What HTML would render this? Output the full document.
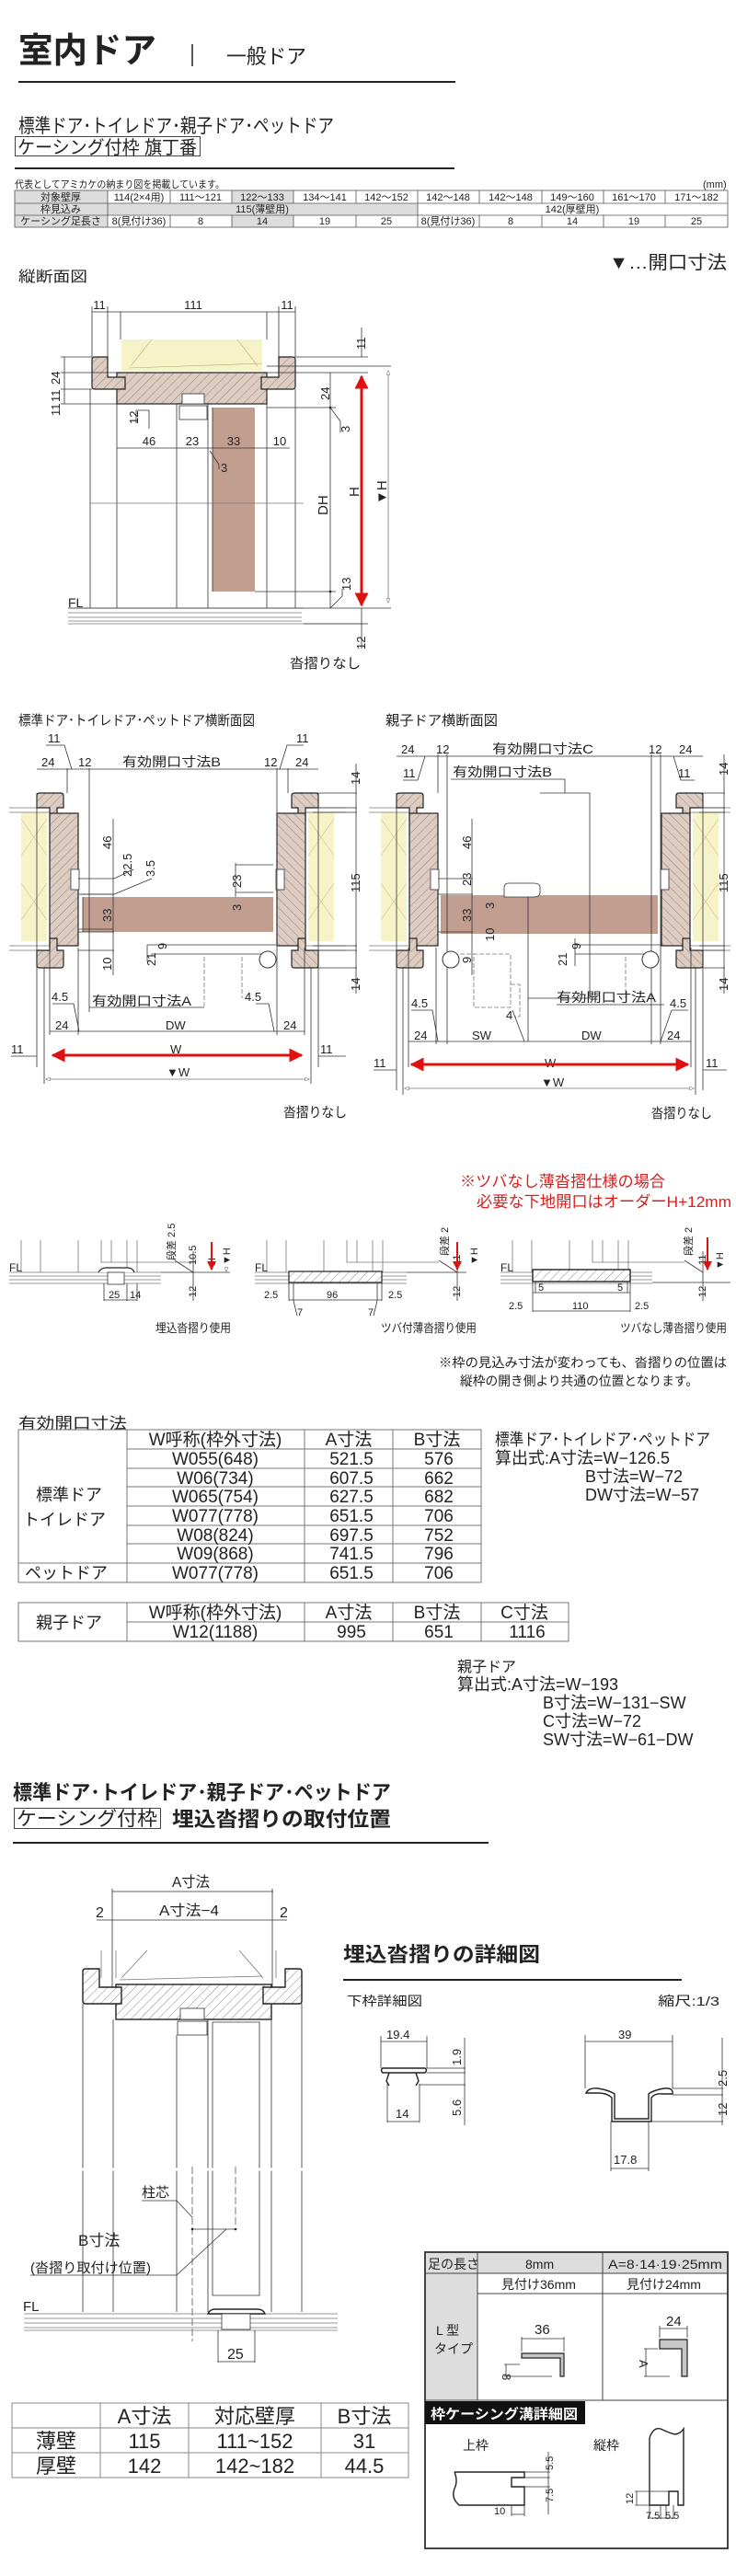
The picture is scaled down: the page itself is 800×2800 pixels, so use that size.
<!DOCTYPE html>
<html><head><meta charset="utf-8"><style>
html,body{margin:0;padding:0;background:#fff}
svg{display:block}
text{font-family:"Liberation Sans","Noto Sans CJK JP",sans-serif;fill:#222}
.d{font-size:13px}
.s{font-size:11px}
.ln{stroke:#333;stroke-width:0.8;fill:none}
.lg{stroke:#777;stroke-width:0.8;fill:none}
.th{stroke:#222;stroke-width:1.4;fill:none}
.red{stroke:#e01010;stroke-width:3;fill:none}
</style></head><body>
<svg width="800" height="2800" viewBox="0 0 800 2800" xmlns="http://www.w3.org/2000/svg">
<defs>
<pattern id="h" width="7" height="7" patternUnits="userSpaceOnUse" patternTransform="rotate(45)">
<rect width="7" height="7" fill="#dcccc2"/><line x1="0" y1="0" x2="0" y2="7" stroke="#8a6e60" stroke-width="0.8"/></pattern>
<pattern id="hw" width="7" height="7" patternUnits="userSpaceOnUse" patternTransform="rotate(45)">
<rect width="7" height="7" fill="#fff"/><line x1="0" y1="0" x2="0" y2="7" stroke="#555" stroke-width="0.7"/></pattern>
<marker id="ar" viewBox="0 0 10 10" refX="9" refY="5" markerWidth="5" markerHeight="5" orient="auto-start-reverse"><path d="M0,0L10,5L0,10Z" fill="#e01010"/></marker>
<marker id="ao" viewBox="0 0 10 10" refX="9" refY="5" markerWidth="6" markerHeight="6" orient="auto-start-reverse"><path d="M0,1L10,5L0,9Z" fill="#fff" stroke="#555"/></marker>
<g id="jamb">
<rect x="-17" y="883" width="28" height="140" fill="#f7f3c8"/>
<path d="M-17,890L11,930M-17,960L11,1000M-17,930L11,890M-17,1000L11,960" stroke="#c8c08a" stroke-width="0.6"/>
<line x1="-30" y1="878" x2="14" y2="878" class="lg"/><line x1="-30" y1="883" x2="14" y2="883" class="lg"/>
<line x1="-30" y1="1033" x2="14" y2="1033" class="lg"/><line x1="-30" y1="1028" x2="14" y2="1028" class="lg"/>
<path d="M0,865Q0,862 3,862H26Q29,862 29,865V878H22V892H14V878H0Z" fill="url(#h)" stroke="#222" stroke-width="1.2"/>
<rect x="14" y="884" width="31" height="144" fill="url(#h)" stroke="#222" stroke-width="1.2"/>
<path d="M0,1033H14V1020H22V1033H29V1049Q29,1052 26,1052H3Q0,1052 0,1049Z" fill="url(#h)" stroke="#222" stroke-width="1.2"/>
<rect x="37" y="945" width="9" height="22" fill="#fff" stroke="#333" stroke-width="0.8"/>
</g>
</defs>

<!-- HEADER -->
<text x="20" y="68" font-size="38" font-weight="bold" textLength="150" lengthAdjust="spacingAndGlyphs">室内ドア</text>
<line x1="209" y1="48" x2="209" y2="72" stroke="#222" stroke-width="1.5"/>
<text x="246" y="69" font-size="22" textLength="87" lengthAdjust="spacingAndGlyphs">一般ドア</text>
<line x1="20" y1="89" x2="495" y2="89" stroke="#222" stroke-width="2"/>
<text x="20" y="144" font-size="21" textLength="343" lengthAdjust="spacingAndGlyphs">標準ドア･トイレドア･親子ドア･ペットドア</text>
<rect x="16.5" y="148.5" width="201" height="21" fill="none" stroke="#444"/>
<text x="19" y="167" font-size="20" textLength="195" lengthAdjust="spacingAndGlyphs">ケーシング付枠 旗丁番</text>
<line x1="16" y1="183" x2="494" y2="183" stroke="#222" stroke-width="2"/>
<text x="16" y="204" font-size="11" textLength="228" lengthAdjust="spacingAndGlyphs">代表としてアミカケの納まり図を掲載しています。</text>
<text x="764" y="204" font-size="11">(mm)</text>
<!-- spec table -->
<rect x="16" y="207" width="101" height="40" fill="#ddd"/>
<rect x="252" y="207" width="67" height="14" fill="#ddd"/>
<rect x="117" y="221" width="337" height="13" fill="#ddd"/>
<rect x="252" y="234" width="67" height="13" fill="#ddd"/>
<g stroke="#555" stroke-width="0.8" fill="none">
<rect x="16" y="207" width="775" height="40"/>
<line x1="16" y1="221" x2="791" y2="221"/><line x1="16" y1="234" x2="791" y2="234"/>
<path d="M117,207V247M185,207V221M185,234V247M252,207V221M252,234V247M319,207V221M319,234V247M387,207V221M387,234V247M454,207V247M521,207V221M521,234V247M589,207V221M589,234V247M656,207V221M656,234V247M723,207V221M723,234V247"/>
</g>
<g font-size="11" text-anchor="middle">
<text x="66" y="218">対象壁厚</text><text x="151" y="218">114(2×4用)</text><text x="218" y="218">111～121</text><text x="285" y="218">122～133</text><text x="353" y="218">134～141</text><text x="420" y="218">142～152</text><text x="487" y="218">142～148</text><text x="555" y="218">142～148</text><text x="622" y="218">149～160</text><text x="689" y="218">161～170</text><text x="757" y="218">171～182</text>
<text x="66" y="231">枠見込み</text><text x="285" y="231">115(薄壁用)</text><text x="622" y="231">142(厚壁用)</text>
<text x="66" y="244">ケーシング足長さ</text><text x="151" y="244">8(見付け36)</text><text x="218" y="244">8</text><text x="285" y="244">14</text><text x="353" y="244">19</text><text x="420" y="244">25</text><text x="487" y="244">8(見付け36)</text><text x="555" y="244">8</text><text x="622" y="244">14</text><text x="689" y="244">19</text><text x="757" y="244">25</text>
</g>
<text x="662" y="292" font-size="20" textLength="128" lengthAdjust="spacingAndGlyphs">▼…開口寸法</text>
<text x="20" y="306" font-size="16" textLength="75" lengthAdjust="spacingAndGlyphs">縦断面図</text>

<!-- VERTICAL SECTION -->
<g>
<rect x="132" y="369" width="153" height="34" fill="#f7f3c8"/>
<path d="M165,369L142,398M258,369L280,398M140,400L285,395" stroke="#b0a870" stroke-width="0.6" fill="none"/>
<path class="ln" d="M100,333V388M117,333V400M303,333V400M321,333V388"/>
<line x1="100" y1="339" x2="321" y2="339" class="ln"/>
<path class="ln" d="M131,339V369M290,339V369"/>
<g class="d" text-anchor="middle"><text x="108" y="336">11</text><text x="210" y="336">111</text><text x="312" y="336">11</text></g>
<rect x="127" y="405" width="163" height="34" fill="url(#h)" stroke="#222" stroke-width="1.2"/>
<path d="M100,391Q100,388 103,388H117V410H136V423H103Q100,423 100,420Z" fill="url(#h)" stroke="#222" stroke-width="1.2"/>
<path d="M321,391Q321,388 318,388H303V410H284V423H318Q321,423 321,420Z" fill="url(#h)" stroke="#222" stroke-width="1.2"/>
<rect x="198" y="428" width="24" height="11" fill="#fff" stroke="#333" stroke-width="0.8"/>
<rect x="195" y="441" width="30" height="15" fill="#fff" stroke="#333" stroke-width="0.8"/>
<rect x="231" y="443" width="46" height="200" fill="#c29e91"/>
<path class="ln" d="M98,423V661M127,439V661M192,439V661M226,439V661M290,439V661M321,423V661M231,443V643"/>
<path class="lg" d="M98,547H330" stroke="#fff" stroke-width="3"/>
<text x="74" y="660" font-size="14">FL</text>
<path class="lg" d="M74,661H330M74,666H328M74,671H328M74,675H328M74,678H395"/>
<line x1="74" y1="661" x2="425" y2="661" class="ln"/>
<!-- left dims -->
<path class="ln" d="M66,388H100M66,405H130M66,423H100M66,439H127M70,388V439"/>
<g class="d" transform="rotate(-90)"><text x="-418" y="65">24</text><text x="-437" y="65">11</text><text x="-452" y="65">11</text></g>
<!-- row dims -->
<line x1="127" y1="487" x2="315" y2="487" class="ln"/>
<g class="d" text-anchor="middle"><text x="162" y="484">46</text><text x="209" y="484">23</text><text x="254" y="484" fill="#7a4a3a">33</text><text x="304" y="484">10</text></g>
<path class="ln" d="M162,446V466M162,446H148V460M228,490L238,505V510"/>
<text x="137" y="468" class="d" transform="rotate(-90 140 458)">12</text>
<text x="240" y="513" class="d">3</text>
<!-- right dims -->
<path class="ln" d="M321,388H400M290,398H425M290,405H400M290,443H365M277,643H365M330,678H400"/>
<path class="ln" d="M359,405V661"/>
<circle cx="359" cy="443" r="1.3" fill="#222"/><circle cx="359" cy="643" r="1.3" fill="#222"/>
<path class="ln" d="M359,443L370,458V470M359,661L372,648V640"/>
<text x="0" y="0" class="d" transform="translate(358,435) rotate(-90)">24</text>
<text x="0" y="0" class="d" transform="translate(380,470) rotate(-90)">3</text>
<text x="0" y="0" class="d" transform="translate(381,642) rotate(-90)">13</text>
<text x="0" y="0" font-size="15" transform="translate(356,560) rotate(-90)">DH</text>
<text x="0" y="0" font-size="15" transform="translate(390,540) rotate(-90)">H</text>
<text x="0" y="0" font-size="15" transform="translate(420,548) rotate(-90)">▼H</text>
<line x1="393" y1="356" x2="393" y2="388" class="ln"/>
<text x="0" y="0" class="d" transform="translate(397,380) rotate(-90)">11</text>
<line x1="393" y1="409" x2="393" y2="658" class="red" marker-start="url(#ar)" marker-end="url(#ar)"/>
<line x1="422" y1="403" x2="422" y2="655" class="lg" marker-start="url(#ao)" marker-end="url(#ao)"/>
<line x1="393" y1="661" x2="393" y2="705" class="ln"/>
<text x="0" y="0" class="d" transform="translate(397,706) rotate(-90)">12</text>
<text x="315" y="726" font-size="15" textLength="77" lengthAdjust="spacingAndGlyphs">沓摺りなし</text>
</g>

<!-- HORIZONTAL SECTIONS -->
<text x="20" y="788" font-size="15" textLength="257" lengthAdjust="spacingAndGlyphs">標準ドア･トイレドア･ペットドア横断面図</text>
<text x="419" y="788" font-size="15" textLength="122" lengthAdjust="spacingAndGlyphs">親子ドア横断面図</text>
<!-- left -->
<use href="#jamb" transform="translate(40,0)"/>
<use href="#jamb" transform="translate(346,0) scale(-1,1)"/>
<rect x="90" y="975" width="207" height="38" fill="#c29e91"/>
<path class="ln" d="M90,975V1013M88,972H123M85,1010H123"/>
<path class="ln" d="M40,862V1160M48,1052V1178M54,1030V1125M85,1030V1125M97,835V1100M301,835V1125M331,1030V1125M338,1052V1178M346,862V1160M73,835V862M313,835V862"/>
<line x1="40" y1="836" x2="346" y2="836" class="ln"/>
<g class="d"><text x="45" y="833">24</text><text x="85" y="833">12</text><text x="133" y="833" font-size="14" textLength="107" lengthAdjust="spacingAndGlyphs">有効開口寸法B</text><text x="287" y="833">12</text><text x="321" y="833">24</text><text x="52" y="807">11</text><text x="322" y="807">11</text></g>
<path class="ln" d="M50,810H70L78,836M330,810H312L304,836"/>
<path class="ln" d="M340,862H388M340,878H388M340,883H388M340,1028H388M340,1033H388M340,1052H388M387,830V1080"/>
<g class="d"><text transform="translate(391,853) rotate(-90)">14</text><text transform="translate(391,970) rotate(-90)">115</text><text transform="translate(391,1077) rotate(-90)">14</text></g>
<path class="ln" d="M85,955H124M85,972H124M85,1013H124M85,1033H124M123,890V1060M256,940H297M256,970H297M256,938V975M160,1027V1045M160,1027H300M164,1037H290"/>
<g class="d"><text transform="translate(121,923) rotate(-90)">46</text><text transform="translate(143,953) rotate(-90)">22.5</text><text transform="translate(168,953) rotate(-90)">3.5</text><text transform="translate(121,1002) rotate(-90)" fill="#7a4a3a">33</text><text transform="translate(121,1055) rotate(-90)">10</text><text transform="translate(262,965) rotate(-90)">23</text><text transform="translate(262,990) rotate(-90)" fill="#7a4a3a">3</text><text transform="translate(181,1032) rotate(-90)">9</text><text transform="translate(169,1050) rotate(-90)">21</text></g>
<path class="ln" d="M124,955L145,945M124,972L165,955"/>
<ellipse cx="291" cy="1043" rx="9" ry="9" fill="#fff" stroke="#333" stroke-width="1"/>
<path class="lg" d="M222,1040V1095M263,1040V1085" stroke-dasharray="5,2"/>
<line x1="97" y1="1095" x2="222" y2="1095" class="ln"/>
<text x="100" y="1093" font-size="14" textLength="108" lengthAdjust="spacingAndGlyphs">有効開口寸法A</text>
<line x1="54" y1="1121" x2="331" y2="1121" class="ln"/>
<g class="d"><text x="56" y="1088">4.5</text><text x="266" y="1088">4.5</text><text x="60" y="1119">24</text><text x="180" y="1119">DW</text><text x="308" y="1119">24</text><text x="12" y="1145">11</text><text x="185" y="1145">W</text><text x="348" y="1145">11</text></g>
<path class="ln" d="M57,1091H80L86,1121M278,1091H292L298,1121M12,1148H40M346,1148H376"/>
<line x1="57" y1="1147" x2="328" y2="1147" class="red" marker-start="url(#ar)" marker-end="url(#ar)"/>
<text x="181" y="1170" class="d">▼W</text>
<line x1="50" y1="1173" x2="336" y2="1173" class="lg" marker-start="url(#ao)" marker-end="url(#ao)"/>
<text x="308" y="1214" font-size="15" textLength="69" lengthAdjust="spacingAndGlyphs">沓摺りなし</text>

<!-- right (oyako) -->
<use href="#jamb" transform="translate(431,0)"/>
<use href="#jamb" transform="translate(764,0) scale(-1,1)"/>
<rect x="479" y="973" width="236" height="42" fill="#c29e91"/>
<path class="ln" d="M431,862V1185M438,1052V1190M444,1030V1160M474,1030V1135M476,820V862M486,820V1135M574,973V1132M708,820V1135M718,820V1135M751,1030V1160M756,1052V1190M764,862V1185"/>
<line x1="431" y1="822" x2="764" y2="822" class="ln"/>
<g class="d"><text x="436" y="819">24</text><text x="474" y="819">12</text><text x="535" y="819" font-size="14" textLength="110" lengthAdjust="spacingAndGlyphs">有効開口寸法C</text><text x="705" y="819">12</text><text x="738" y="819">24</text><text x="438" y="845">11</text><text x="737" y="845">11</text></g>
<path class="ln" d="M438,848H454L462,822M755,848H740L732,822"/>
<path class="ln" d="M490,847H614V862M587,862H641V1085M574,1085H641"/>
<text x="492" y="844" font-size="14" textLength="108" lengthAdjust="spacingAndGlyphs">有効開口寸法B</text>
<path d="M548,975V965Q548,960 553,960H580Q587,960 587,965V970Q587,975 580,975Z" fill="#fff" stroke="#333" stroke-width="0.8"/>
<path class="ln" d="M760,862H788M760,878H788M760,883H788M760,1028H788M760,1033H788M760,1052H788M787,820V1080"/>
<g class="d"><text transform="translate(791,843) rotate(-90)">14</text><text transform="translate(791,970) rotate(-90)">115</text><text transform="translate(791,1077) rotate(-90)">14</text></g>
<path class="ln" d="M476,955H514M476,972H514M476,1013H514M513,890V1060M625,1027H720M625,1037H700M625,1020V1050"/>
<g class="d"><text transform="translate(512,923) rotate(-90)">46</text><text transform="translate(512,963) rotate(-90)">23</text><text transform="translate(537,988) rotate(-90)">3</text><text transform="translate(512,1002) rotate(-90)" fill="#7a4a3a">33</text><text transform="translate(537,1023) rotate(-90)" fill="#7a4a3a">10</text><text transform="translate(512,1047) rotate(-90)">9</text><text transform="translate(631,1032) rotate(-90)">9</text><text transform="translate(616,1050) rotate(-90)">21</text></g>
<ellipse cx="490" cy="1043" rx="9" ry="9" fill="#fff" stroke="#333" stroke-width="1"/>
<ellipse cx="707" cy="1043" rx="9" ry="9" fill="#fff" stroke="#333" stroke-width="1"/>
<path class="lg" d="M500,1037H555V1095H515V1037M555,1070H565V1105H560" stroke-dasharray="5,2"/>
<path class="lg" d="M680,1040V1085" stroke-dasharray="5,2"/>
<line x1="605" y1="1092" x2="722" y2="1092" class="ln"/>
<text x="605" y="1089" font-size="14" textLength="108" lengthAdjust="spacingAndGlyphs">有効開口寸法A</text>
<line x1="444" y1="1132" x2="751" y2="1132" class="ln"/>
<g class="d"><text x="447" y="1095">4.5</text><text x="550" y="1108">4</text><text x="728" y="1095">4.5</text><text x="450" y="1130">24</text><text x="513" y="1130">SW</text><text x="632" y="1130">DW</text><text x="725" y="1130">24</text><text x="406" y="1160">11</text><text x="592" y="1160">W</text><text x="767" y="1160">11</text></g>
<path class="ln" d="M447,1098H470L476,1132M557,1098L570,1132M748,1098H730L718,1132M406,1163H431M764,1163H790"/>
<line x1="447" y1="1157" x2="748" y2="1157" class="red" marker-start="url(#ar)" marker-end="url(#ar)"/>
<text x="588" y="1181" class="d">▼W</text>
<line x1="440" y1="1183" x2="754" y2="1183" class="lg" marker-start="url(#ao)" marker-end="url(#ao)"/>
<text x="708" y="1215" font-size="15" textLength="66" lengthAdjust="spacingAndGlyphs">沓摺りなし</text>

<!-- THRESHOLDS -->
<text x="500" y="1290" font-size="17" fill="#d62020" style="fill:#d62020" textLength="223" lengthAdjust="spacingAndGlyphs">※ツバなし薄沓摺仕様の場合</text>
<text x="518" y="1312" font-size="17" style="fill:#d62020" textLength="277" lengthAdjust="spacingAndGlyphs">必要な下地開口はオーダーH+12mm</text>
<!-- d1 -->
<g>
<path class="lg" d="M23,1348V1383M44,1348V1383M85,1348V1383M110,1348V1372H210M121,1348V1372M138,1348V1383M149,1348V1383"/>
<path class="lg" d="M10,1383H175M10,1387H175M10,1391H175M10,1395H175"/>
<text x="10" y="1382" font-size="12">FL</text>
<path d="M107,1383Q110,1378 115,1378H139Q144,1378 146,1383" fill="#fff" stroke="#222" stroke-width="1.2"/>
<rect x="117" y="1383" width="18" height="13" fill="#fff" stroke="#333" stroke-width="0.8"/>
<path class="ln" d="M113,1395V1414M138,1395V1414M149,1395V1414M113,1413H149M210,1360V1414M190,1370L210,1383M175,1383H250"/>
<g class="s"><text x="118" y="1411">25</text><text x="141" y="1411">14</text><text transform="translate(190,1370) rotate(-90)">段差 2.5</text><text transform="translate(213,1375) rotate(-90)">10.5</text><text transform="translate(213,1410) rotate(-90)">12</text><text transform="translate(234,1375) rotate(-90)">H</text><text transform="translate(250,1375) rotate(-90)">▼H</text></g>
<line x1="230" y1="1350" x2="230" y2="1380" stroke="#e01010" stroke-width="2" marker-end="url(#ar)"/>
<line x1="246" y1="1377" x2="246" y2="1382" class="lg" marker-end="url(#ao)"/>
</g>
<!-- d2 -->
<g transform="translate(267,0)">
<path class="lg" d="M23,1348V1383M44,1348V1383M85,1348V1383M110,1348V1372H210M121,1348V1372M138,1348V1383M149,1348V1383"/>
<path class="lg" d="M10,1383H175M10,1387H175M10,1391H175M10,1395H175"/>
<text x="10" y="1382" font-size="12">FL</text>
<rect x="47" y="1382" width="101" height="12" fill="url(#hw)" stroke="#222" stroke-width="1.2"/>
<path class="ln" d="M47,1395V1414M52,1395V1414M143,1395V1414M148,1395V1414M47,1413H148M52,1414L56,1430M143,1414L139,1430M230,1360V1414M210,1370L230,1383M175,1383H240"/>
<g class="s"><text x="20" y="1411">2.5</text><text x="88" y="1411">96</text><text x="155" y="1411">2.5</text><text x="56" y="1430">7</text><text x="133" y="1430">7</text><text transform="translate(220,1365) rotate(-90)">段差 2</text><text transform="translate(233,1375) rotate(-90)">11</text><text transform="translate(233,1410) rotate(-90)">12</text><text transform="translate(230,1375) rotate(-90)" dx="-50" dy="25"></text><text transform="translate(252,1375) rotate(-90)">▼H</text></g>
<line x1="230" y1="1350" x2="230" y2="1380" stroke="#e01010" stroke-width="2" marker-end="url(#ar)"/>
</g>
<!-- d3 -->
<g transform="translate(534,0)">
<path class="lg" d="M23,1348V1383M44,1348V1383M85,1348V1383M110,1348V1372H210M121,1348V1372M138,1348V1383M149,1348V1383"/>
<path class="lg" d="M10,1383H175M10,1387H175M10,1391H175M10,1395H175"/>
<text x="10" y="1382" font-size="12">FL</text>
<rect x="45" y="1380" width="106" height="13" fill="url(#hw)" stroke="#222" stroke-width="1.4"/>
<path class="ln" d="M45,1393V1426M48,1393V1405M148,1393V1405M151,1393V1426M45,1405H151M45,1425H151M230,1360V1414M210,1370L230,1383M175,1394H260"/>
<g class="s"><text x="51" y="1403">5</text><text x="137" y="1403">5</text><text x="19" y="1423">2.5</text><text x="88" y="1423">110</text><text x="156" y="1423">2.5</text><text transform="translate(218,1365) rotate(-90)">段差 2</text><text transform="translate(233,1375) rotate(-90)">11</text><text transform="translate(233,1410) rotate(-90)">12</text><text transform="translate(252,1380) rotate(-90)">▼H</text></g>
<line x1="235" y1="1345" x2="235" y2="1380" stroke="#e01010" stroke-width="2" marker-end="url(#ar)"/>
</g>
<g font-size="13"><text x="169" y="1448" textLength="82" lengthAdjust="spacingAndGlyphs">埋込沓摺り使用</text><text x="414" y="1448" textLength="104" lengthAdjust="spacingAndGlyphs">ツバ付薄沓摺り使用</text><text x="674" y="1448" textLength="116" lengthAdjust="spacingAndGlyphs">ツバなし薄沓摺り使用</text></g>
<text x="477" y="1486" font-size="14" textLength="313" lengthAdjust="spacingAndGlyphs">※枠の見込み寸法が変わっても、沓摺りの位置は</text>
<text x="500" y="1506" font-size="14" textLength="259" lengthAdjust="spacingAndGlyphs">縦枠の開き側より共通の位置となります。</text>

<!-- OPENING TABLE -->
<text x="20" y="1553" font-size="17" textLength="118" lengthAdjust="spacingAndGlyphs">有効開口寸法</text>
<g stroke="#777" stroke-width="1" fill="none">
<rect x="20" y="1554" width="503" height="166"/>
<path d="M138,1575H523M138,1596H523M138,1616H523M138,1637H523M138,1658H523M138,1678H523M20,1699H523M138,1554V1720M331,1554V1720M427,1554V1720"/>
<rect x="20" y="1742" width="598" height="42"/>
<path d="M138,1763H618M138,1742V1784M331,1742V1784M427,1742V1784M523,1742V1784"/>
</g>
<g font-size="19" text-anchor="middle">
<text x="234" y="1571">W呼称(枠外寸法)</text><text x="379" y="1571">A寸法</text><text x="475" y="1571">B寸法</text>
<text x="234" y="1592">W055(648)</text><text x="382" y="1592">521.5</text><text x="477" y="1592">576</text>
<text x="234" y="1613">W06(734)</text><text x="382" y="1613">607.5</text><text x="477" y="1613">662</text>
<text x="234" y="1633">W065(754)</text><text x="382" y="1633">627.5</text><text x="477" y="1633">682</text>
<text x="234" y="1654">W077(778)</text><text x="382" y="1654">651.5</text><text x="477" y="1654">706</text>
<text x="234" y="1675">W08(824)</text><text x="382" y="1675">697.5</text><text x="477" y="1675">752</text>
<text x="234" y="1695">W09(868)</text><text x="382" y="1695">741.5</text><text x="477" y="1695">796</text>
<text x="234" y="1716">W077(778)</text><text x="382" y="1716">651.5</text><text x="477" y="1716">706</text>
<text x="75" y="1631" font-size="18">標準ドア</text><text x="70" y="1658" font-size="18">トイレドア</text><text x="72" y="1716" font-size="18">ペットドア</text>
<text x="234" y="1759">W呼称(枠外寸法)</text><text x="379" y="1759">A寸法</text><text x="475" y="1759">B寸法</text><text x="570" y="1759">C寸法</text>
<text x="234" y="1780">W12(1188)</text><text x="382" y="1780">995</text><text x="477" y="1780">651</text><text x="573" y="1780">1116</text>
<text x="75" y="1770" font-size="18">親子ドア</text>
</g>
<g font-size="18">
<text x="538" y="1571" textLength="234" lengthAdjust="spacingAndGlyphs">標準ドア･トイレドア･ペットドア</text>
<text x="538" y="1591">算出式:A寸法=W−126.5</text>
<text x="636" y="1611">B寸法=W−72</text>
<text x="636" y="1631">DW寸法=W−57</text>
<text x="497" y="1817" font-size="16">親子ドア</text>
<text x="497" y="1837">算出式:A寸法=W−193</text>
<text x="590" y="1857">B寸法=W−131−SW</text>
<text x="590" y="1877">C寸法=W−72</text>
<text x="590" y="1897">SW寸法=W−61−DW</text>
</g>

<!-- SECTION 2 -->
<text x="14" y="1956" font-size="22" font-weight="bold" textLength="411" lengthAdjust="spacingAndGlyphs">標準ドア･トイレドア･親子ドア･ペットドア</text>
<rect x="15.5" y="1965.5" width="159" height="22" fill="none" stroke="#444"/>
<text x="18" y="1984" font-size="21" textLength="153" lengthAdjust="spacingAndGlyphs">ケーシング付枠</text>
<text x="187" y="1985" font-size="22" font-weight="bold" textLength="238" lengthAdjust="spacingAndGlyphs">埋込沓摺りの取付位置</text>
<line x1="14" y1="2003" x2="531" y2="2003" stroke="#222" stroke-width="2"/>
<text x="187" y="2051" font-size="16" textLength="41" lengthAdjust="spacingAndGlyphs">A寸法</text>
<path class="ln" d="M122,2056H297M122,2087H296M122,2053V2160M296,2053V2160"/>
<text x="173" y="2082" font-size="16" textLength="65" lengthAdjust="spacingAndGlyphs">A寸法−4</text>
<text x="104" y="2084" font-size="16">2</text><text x="304" y="2084" font-size="16">2</text>
<path class="ln" d="M105,2087H122M296,2087H312"/>
<!-- frame head -->
<path class="lg" d="M110,2120V2150M126,2120V2150M160,2120L132,2150M260,2120L286,2150M130,2152L285,2148M300,2120V2150"/>
<rect x="126" y="2157" width="169" height="38" fill="url(#hw)" stroke="#222" stroke-width="1.4"/>
<path d="M90,2143Q90,2140 93,2140H108V2160H132V2178H93Q90,2178 90,2175Z" fill="url(#hw)" stroke="#222" stroke-width="1.4"/>
<path d="M328,2143Q328,2140 325,2140H310V2160H286V2178H325Q328,2178 328,2175Z" fill="url(#hw)" stroke="#222" stroke-width="1.4"/>
<rect x="196" y="2183" width="26" height="12" fill="#fff" stroke="#333" stroke-width="0.8"/>
<rect x="193" y="2197" width="32" height="15" fill="#fff" stroke="#333" stroke-width="0.8"/>
<path class="ln" d="M90,2178V2513M123,2195V2513M192,2212V2513M226,2195V2513M231,2198V2495H282V2198H231M295,2195V2513M328,2178V2513"/>
<line x1="85" y1="2358" x2="335" y2="2358" stroke="#fff" stroke-width="3"/>
<line x1="209" y1="2355" x2="209" y2="2545" stroke="#555" stroke-width="0.8" stroke-dasharray="8,3"/>
<line x1="256" y1="2355" x2="256" y2="2420" stroke="#555" stroke-width="0.8" stroke-dasharray="8,3"/>
<text x="154" y="2388" font-size="15">柱芯</text>
<path class="ln" d="M154,2392H192L209,2410"/>
<text x="85" y="2441" font-size="17">B寸法</text>
<text x="33" y="2470" font-size="15" textLength="131" lengthAdjust="spacingAndGlyphs">(沓摺り取付け位置)</text>
<path class="ln" d="M33,2473H192L246,2423M209,2423H256"/>
<circle cx="209" cy="2423" r="1.3" fill="#222"/><circle cx="256" cy="2423" r="1.3" fill="#222"/>
<text x="25" y="2512" font-size="15">FL</text>
<path class="lg" d="M26,2515H367M26,2520H367M26,2525H367M26,2530H367M26,2533H367"/>
<path d="M226,2515Q228,2510 234,2510H280Q286,2510 288,2515Z" fill="#fff" stroke="#222" stroke-width="1.4"/>
<rect x="241" y="2515" width="31" height="17" fill="#fff" stroke="#333" stroke-width="0.8"/>
<path class="ln" d="M237,2533V2568M277,2533V2568M237,2567H277"/>
<text x="247" y="2564" font-size="16">25</text>

<!-- DETAIL -->
<text x="373" y="2132" font-size="22" font-weight="bold" textLength="214" lengthAdjust="spacingAndGlyphs">埋込沓摺りの詳細図</text>
<line x1="373" y1="2152" x2="741" y2="2152" stroke="#222" stroke-width="2"/>
<text x="377" y="2180" font-size="14" textLength="82" lengthAdjust="spacingAndGlyphs">下枠詳細図</text>
<text x="715" y="2180" font-size="14" textLength="67" lengthAdjust="spacingAndGlyphs">縮尺:1/3</text>
<path d="M416,2248H462Q465,2250 462,2253H416Q413,2250 416,2248Z" fill="#fff" stroke="#222" stroke-width="1.5"/>
<path class="th" d="M423,2253L420,2262L423,2267M452,2253L455,2262L452,2267" stroke-width="1"/>
<path class="ln" d="M414,2213V2248M464,2213V2248M414,2219H464M421,2265V2307M456,2265V2307M421,2306H456M464,2248H506M464,2253H506M456,2266H506M505,2215V2310"/>
<g class="d"><text x="420" y="2216">19.4</text><text x="430" y="2302">14</text><text transform="translate(501,2245) rotate(-90)">1.9</text><text transform="translate(501,2300) rotate(-90)">5.6</text></g>
<path d="M637,2275Q640,2269 650,2270Q662,2272 668,2276V2303H705V2276Q710,2272 722,2270Q732,2269 731,2276H720Q712,2275 708,2280V2306H665V2280Q660,2275 650,2275Z" fill="#fff" stroke="#222" stroke-width="1.4"/>
<path class="ln" d="M636,2212V2270M731,2212V2270M636,2219H731M731,2270H786M731,2277H786M705,2306H786M785,2215V2310M664,2306V2360M705,2306V2360M664,2357H705"/>
<g class="d"><text x="672" y="2216">39</text><text x="667" y="2352">17.8</text><text transform="translate(790,2268) rotate(-90)">2.5</text><text transform="translate(790,2300) rotate(-90)">12</text></g>

<!-- BOTTOM TABLE -->
<g stroke="#888" stroke-width="1" fill="none">
<rect x="13" y="2612" width="431" height="81"/>
<path d="M13,2639H444M13,2666H444M109,2612V2693M205,2612V2693M349,2612V2693"/>
</g>
<g font-size="22" text-anchor="middle">
<text x="157" y="2634">A寸法</text><text x="277" y="2634">対応壁厚</text><text x="396" y="2634">B寸法</text>
<text x="61" y="2661">薄壁</text><text x="157" y="2661">115</text><text x="277" y="2661">111~152</text><text x="396" y="2661">31</text>
<text x="61" y="2688">厚壁</text><text x="157" y="2688">142</text><text x="277" y="2688">142~182</text><text x="396" y="2688">44.5</text>
</g>

<!-- RIGHT BOX -->
<rect x="462" y="2448" width="57" height="161" fill="#ddd"/>
<rect x="519" y="2448" width="272" height="23" fill="#ddd"/>
<g stroke="#444" stroke-width="1" fill="none">
<rect x="462" y="2448" width="329" height="322" stroke-width="2"/>
<path d="M462,2471H791M519,2493H791M462,2609H791M519,2448V2609M655,2448V2609"/>
</g>
<rect x="462" y="2610" width="174" height="25" fill="#111"/>
<text x="468" y="2629" font-size="15" font-weight="bold" style="fill:#fff" textLength="160" lengthAdjust="spacingAndGlyphs">枠ケーシング溝詳細図</text>
<g font-size="14">
<text x="465" y="2466">足の長さ</text><text x="571" y="2466">8mm</text><text x="661" y="2466" textLength="124" lengthAdjust="spacingAndGlyphs">A=8·14·19·25mm</text>
<text x="545" y="2488">見付け36mm</text><text x="681" y="2488">見付け24mm</text>
<text x="474" y="2538">L 型</text><text x="472" y="2558">タイプ</text>
</g>
<path d="M567,2558H613V2583H609V2563H567Z" fill="#c8c8c8" stroke="#222" stroke-width="1.2"/>
<path class="ln" d="M567,2540V2556M613,2540V2556M567,2542H613M548,2570H565M548,2583H600M550,2570V2583"/>
<text x="581" y="2537" font-size="15">36</text>
<text transform="translate(546,2580) rotate(90)" font-size="13">8</text>
<path d="M717,2543H747V2583H741V2553H717Z" fill="#c8c8c8" stroke="#222" stroke-width="1.2"/>
<path class="ln" d="M717,2528V2541M747,2528V2541M717,2531H747M700,2553H715M700,2583H728M702,2553V2583"/>
<text x="724" y="2528" font-size="15">24</text>
<text transform="translate(695,2565) rotate(90)" font-size="13">A</text>
<text x="503" y="2663" font-size="14">上枠</text><text x="645" y="2663" font-size="14">縦枠</text>
<path class="th" d="M494,2687H570V2693H556V2703H570V2723H499Q490,2715 494,2705Q498,2697 494,2687"/>
<path class="ln" d="M570,2687H598M570,2693H598M570,2703H598M596,2665V2733M556,2723V2735M570,2723V2735M556,2733H570"/>
<g class="s"><text transform="translate(601,2685) rotate(-90)">5.5</text><text transform="translate(601,2720) rotate(-90)">7.5</text><text x="537" y="2733">10</text></g>
<path class="th" d="M706,2650Q710,2638 718,2640Q728,2645 734,2646Q740,2645 743,2640V2723H737V2708H727V2723H706Z"/>
<path class="ln" d="M690,2708H727M690,2723H706M692,2708V2723M706,2723V2738M718,2723V2738M724,2723V2738M732,2723V2738M706,2737H732"/>
<g class="s"><text transform="translate(688,2722) rotate(-90)">12</text><text x="702" y="2738">7.5</text><text x="723" y="2738">5.5</text></g>
</svg>
</body></html>
